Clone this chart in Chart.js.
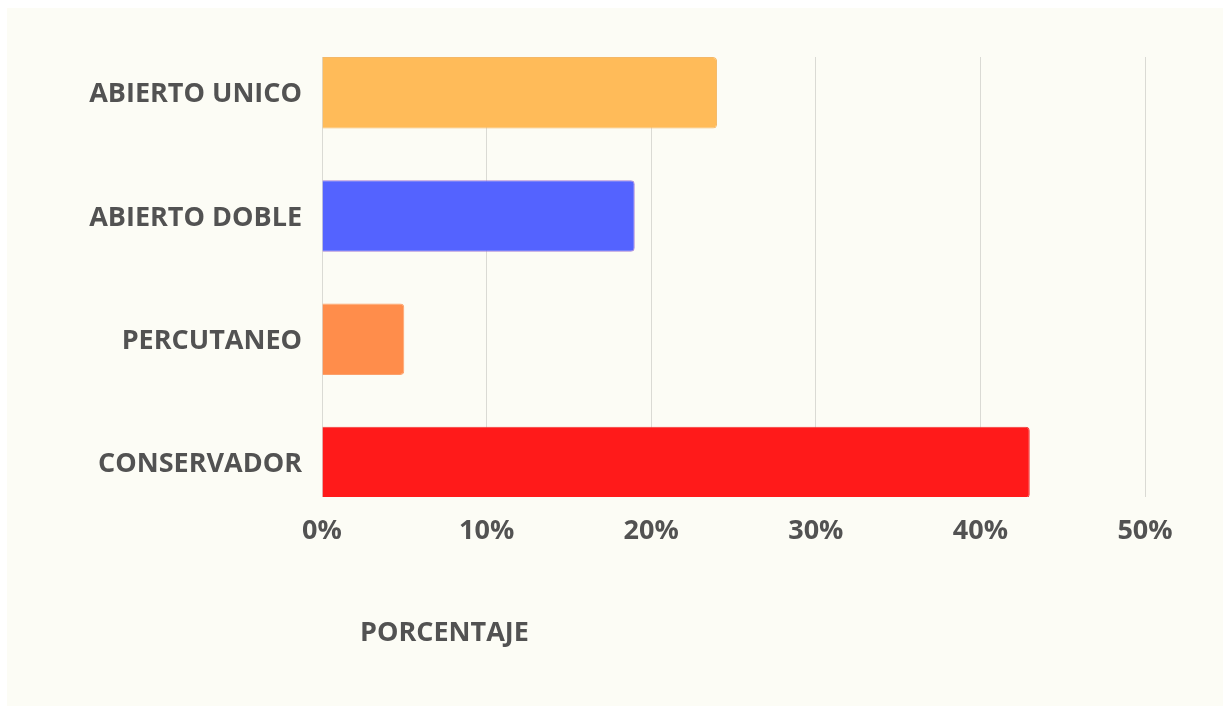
<!DOCTYPE html>
<html>
<head>
<meta charset="utf-8">
<script src="https://cdn.jsdelivr.net/npm/chart.js@4"></script>
<style>
  html, body { margin: 0; padding: 0; background: #ffffff; overflow: hidden; }
  .panel {
    position: absolute; left: 7px; top: 8px; width: 1216px; height: 698px;
    background: #fcfcf5;
  }
  #grafico { position: absolute; left: 0; top: 0; }
  .titulo-eje {
    position: absolute; left: 353px; top: 604px;
    font-family: "Open Sans", sans-serif; font-weight: bold; font-size: 27px;
    color: #525252;
  }
</style>
</head>
<body>
<div class="panel">
  <canvas id="grafico" width="1216" height="698"></canvas>
  <div class="titulo-eje">PORCENTAJE</div>
</div>
<script>
const categorias = ['ABIERTO UNICO', 'ABIERTO DOBLE', 'PERCUTANEO', 'CONSERVADOR'];
const porcentajes = [24, 19, 5, 43];
const colores = ['#ffbb59', '#5463ff', '#ff8d4b', '#ff1a1a'];
const bordes = ['#f4b868', '#a77fd6', '#fca06a', '#f03a3a'];
const ticksX = [0, 10, 20, 30, 40, 50];

const fuente = { family: "'Open Sans', sans-serif", weight: 'bold', size: 27 };

const ctx = document.getElementById('grafico');

new Chart(ctx, {
    type: 'bar',
    data: {
        datasets: [{
            data: categorias.map((c, i) => ({ x: porcentajes[i], y: i })),
            backgroundColor: colores,
            borderColor: bordes,
            borderWidth: 1,
            borderSkipped: 'start',
            borderRadius: 4,
            categoryPercentage: 1,
            barPercentage: 0.58
        }]
    },
    options: {
        indexAxis: 'y',
        responsive: false,
        animation: false,
        layout: {
            padding: { top: 49, right: 78, bottom: 0, left: 0 }
        },
        plugins: {
            legend: { display: false },
            tooltip: { enabled: false }
        },
        scales: {
            x: {
                type: 'linear',
                min: 0,
                max: 50,
                afterBuildTicks: scale => {
                    scale.ticks = ticksX.map(v => ({ value: v }));
                },
                afterFit: scale => { scale.height = 209; },
                border: { display: false },
                grid: { color: '#dadad4', lineWidth: 1, drawTicks: false },
                ticks: {
                    padding: 18,
                    color: '#525252',
                    font: fuente,
                    callback: v => v + '%'
                }
            },
            y: {
                type: 'linear',
                reverse: true,
                offset: false,
                min: -0.29,
                max: 3.28,
                afterBuildTicks: scale => {
                    scale.ticks = categorias.map((c, i) => ({ value: i }));
                },
                afterFit: scale => { scale.width = 315; },
                border: { display: false },
                grid: { display: false, drawTicks: false, offset: false },
                ticks: {
                    padding: 20,
                    labelOffset: 2,
                    color: '#525252',
                    font: fuente,
                    callback: v => categorias[v]
                }
            }
        }
    }
});
</script>
</body>
</html>
